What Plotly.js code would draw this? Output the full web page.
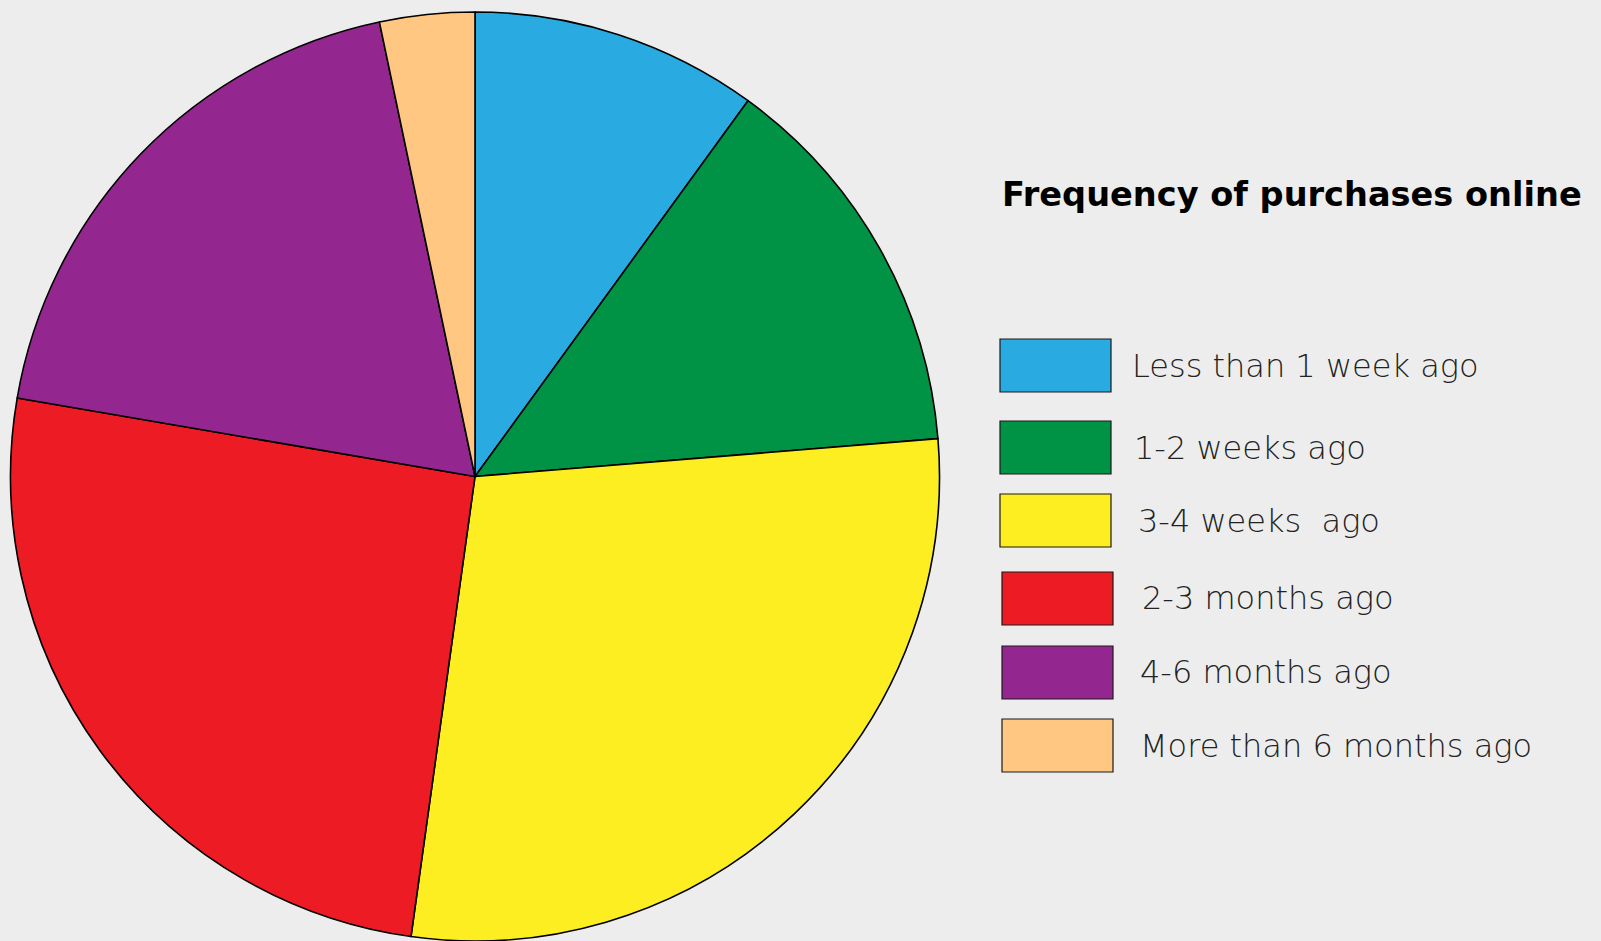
<!DOCTYPE html>
<html>
<head>
<meta charset="utf-8">
<script src="https://cdn.plot.ly/plotly-3.0.1.min.js"></script>
<style>
  html, body { margin: 0; padding: 0; background: #ededed; }
  #chart { width: 1601px; height: 941px; }
</style>
</head>
<body>
<div id="chart"></div>
<script>
// ---- data ----
const categories = [
  "Less than 1 week ago",
  "1-2 weeks ago",
  "3-4 weeks  ago",
  "2-3 months ago",
  "4-6 months ago",
  "More than 6 months ago"
];
const shares = [10.0, 13.7, 28.5, 25.5, 19.0, 3.3];
const colors = ["#29ABE2", "#009245", "#FCEE21", "#ED1C24", "#93278F", "#FFC782"];
const legendTitle = "Frequency of purchases online";

// ---- layout helpers (pixels -> paper) ----
const W = 1601, H = 941;
const px = x => x / W;
const py = y => (H - y) / H;

// legend geometry (pixels)
const boxTop   = [339, 421, 494, 572, 646, 719];
const boxLeft  = [1000, 1000, 1000, 1002, 1002, 1002];
const textLeft = [1130, 1132, 1136, 1140, 1138, 1138];
const boxW = 111, boxH = 53;

const shapes = [];
const annotations = [];
categories.forEach((c, i) => {
  shapes.push({
    type: "rect", xref: "paper", yref: "paper",
    x0: px(boxLeft[i]), x1: px(boxLeft[i] + boxW),
    y0: py(boxTop[i] + boxH), y1: py(boxTop[i]),
    fillcolor: colors[i], line: { color: "#1a1a1a", width: 1.2 }
  });
  annotations.push({
    xref: "paper", yref: "paper",
    x: px(textLeft[i]), y: py(boxTop[i] + boxH / 2),
    xanchor: "left", yanchor: "middle", showarrow: false,
    text: c,
    font: { family: "DejaVu Sans, sans-serif", size: 32, color: "#222", weight: 200 }
  });
});
annotations.push({
  xref: "paper", yref: "paper",
  x: px(1000), y: py(194),
  xanchor: "left", yanchor: "middle", showarrow: false,
  text: "<b>" + legendTitle + "</b>",
  font: { family: "DejaVu Sans, sans-serif", size: 33.6, color: "#000", weight: 700 }
});

const trace = {
  type: "pie",
  labels: categories,
  values: shares,
  sort: false,
  direction: "clockwise",
  rotation: 0,
  textinfo: "none",
  hoverinfo: "label+percent",
  marker: { colors: colors, line: { color: "#000", width: 1.6 } },
  domain: { x: [px(10), px(940)], y: [0, py(12)] },
  showlegend: false
};

const layout = {
  width: W, height: H,
  margin: { l: 0, r: 0, t: 0, b: 0 },
  paper_bgcolor: "#ededed",
  plot_bgcolor: "#ededed",
  showlegend: false,
  shapes: shapes,
  annotations: annotations
};

Plotly.newPlot("chart", [trace], layout, { displayModeBar: false, staticPlot: true });
</script>
</body>
</html>
